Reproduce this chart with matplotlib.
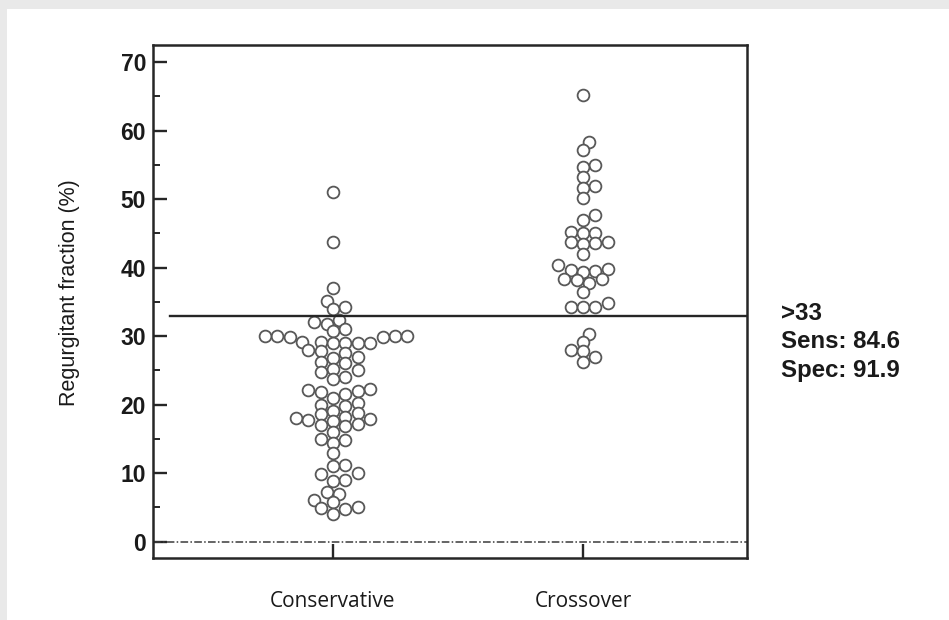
import numpy as np
import matplotlib.pyplot as plt
from matplotlib.patches import Rectangle

# data (regurgitant fraction, %)
groups = ["Conservative", "Crossover"]
conservative = [51.0, 43.7, 37.0, 35.1, 34.2, 34.0,
                32.3, 32.0, 31.8, 31.0, 30.7,
                30.0, 30.0, 30.0, 30.0, 29.8, 29.8,
                29.2, 29.2, 29.0, 29.0, 29.0, 29.0,
                28.0, 27.8, 27.6, 27.0, 26.8, 26.2, 26.0,
                25.2, 25.0, 24.8, 24.0, 23.8,
                22.3, 22.1, 22.0, 21.8, 21.6,
                21.0, 20.2, 20.0, 19.8,
                19.0, 18.8, 18.6, 18.2, 18.0, 17.9, 17.8, 17.6,
                17.2, 17.0, 16.8, 16.0,
                15.0, 14.8, 14.4, 13.0,
                11.2, 11.0, 10.0, 9.8, 9.0, 8.8,
                7.2, 7.0, 6.0, 5.8, 5.0, 4.9, 4.8, 4.0]
crossover = [65.2, 58.4, 57.2, 55.0, 54.7, 53.2, 51.9, 51.6, 50.1,
             47.7, 47.0, 45.2, 45.0, 45.0, 43.8, 43.7, 43.6, 43.5, 42.0,
             40.4, 39.8, 39.6, 39.5, 39.4, 38.4, 38.3, 38.2, 37.7, 36.4,
             34.8, 34.3, 34.2, 34.2,
             30.3, 29.2, 28.0, 27.8, 27.0, 26.2]
threshold = 33
annot_lines = [">33", "Sens: 84.6", "Spec: 91.9"]

BOLD = "Liberation Sans"
DARK = "#262626"
TXT = "#1a1a1a"


def swarm_x(ax, xc, values, step_px=6.2, min_gap=9.5):
    # simple beeswarm done in display pixels, then mapped back to data
    vals = np.asarray(values, dtype=float)
    pts = ax.transData.transform(np.column_stack([np.full(len(vals), xc), vals]))
    order = np.argsort(vals, kind="stable")
    cands = [0]
    for k in range(1, 40):
        cands += [k, -k]
    placed = []
    out = np.zeros(len(vals))
    for i in order:
        px, py = pts[i]
        for c in cands:
            x = px + c * step_px
            if all((x - qx) ** 2 + (py - qy) ** 2 >= min_gap ** 2 for qx, qy in placed):
                break
        placed.append((x, py))
        out[i] = ax.transData.inverted().transform((x, py))[0]
    return out


fig = plt.figure(figsize=(9.49, 6.2), dpi=100, facecolor="#e9e9e9")
fig.patches.append(Rectangle((7 / 949, 0), 1, (620 - 9) / 620, transform=fig.transFigure,
                             facecolor="white", edgecolor="none", zorder=-10))

ax = fig.add_axes([153 / 949, 62 / 620, 594 / 949, 513 / 620])
ax.set_zorder(2)
ax.set_xlim(0.28, 2.656)
ax.set_ylim(-2.4, 72.5)

for pos, vals in zip([1, 2], [conservative, crossover]):
    xs = swarm_x(ax, pos, vals)
    ax.scatter(xs, vals, s=72, facecolors="white", edgecolors="#585858",
               linewidths=1.3, zorder=3)

ax.axhline(threshold, xmin=(170 - 153) / 594, xmax=1, color=DARK, lw=1.7, zorder=4)
ax.axhline(0, color="#3a3a3a", lw=1.1, ls=(0, (5, 1.5, 1, 1.5)), zorder=2)

for s in ax.spines.values():
    s.set_linewidth(1.8)
    s.set_color(DARK)

ax.set_yticks(range(0, 71, 10))
ax.set_yticks(range(5, 70, 10), minor=True)
ax.tick_params(axis="y", which="major", direction="in", length=10, width=1.7,
               color=DARK, pad=5, labelsize=16.5)
ax.tick_params(axis="y", which="minor", direction="in", length=5, width=1.4, color=DARK)
for lab in ax.get_yticklabels():
    lab.set_fontfamily(BOLD)
    lab.set_fontweight("bold")
    lab.set_color(TXT)

ax.set_xticks([1, 2])
ax.set_xticklabels(groups, fontfamily="Open Sans", fontsize=15, color=TXT)
ax.tick_params(axis="x", direction="in", length=10, width=1.7, color=DARK, pad=24)

fig.text(70 / 949, 1 - 293 / 620, "Regurgitant fraction (%)", rotation=90,
         ha="center", va="center", fontfamily="Liberation Sans", fontsize=15.5,
         color=TXT)

for i, line in enumerate(annot_lines):
    ax.text(1.057, 1 - (313 + 29 * i - 45) / 513, line, transform=ax.transAxes,
            ha="left", va="center", fontfamily=BOLD, fontweight="bold",
            fontsize=17.3, color=TXT)

fig.savefig("out.png", dpi=100, facecolor=fig.get_facecolor())
